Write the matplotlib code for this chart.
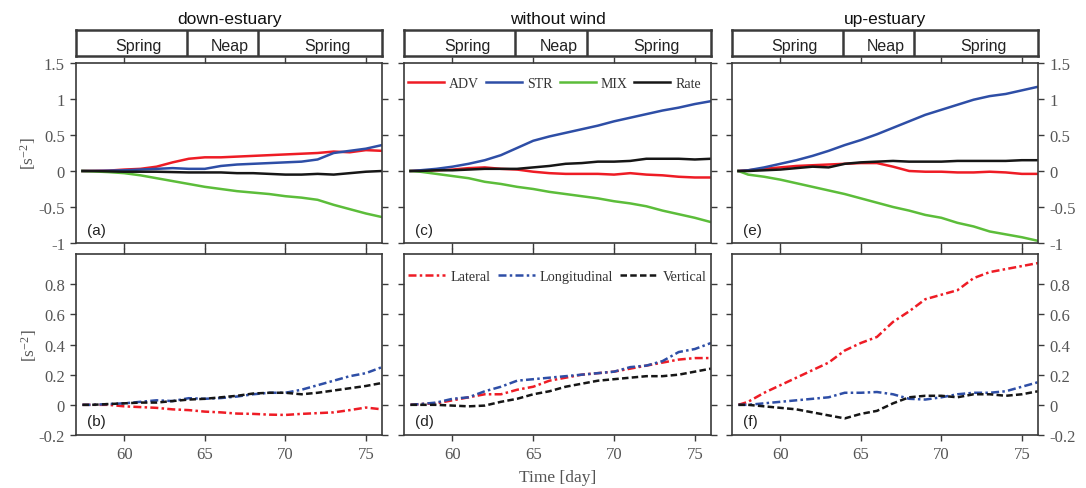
import matplotlib
matplotlib.use('Agg')
import matplotlib.pyplot as plt

# ---------------- data ----------------
time = [57.4, 58, 59, 60, 61, 62, 63, 64, 65, 66, 67, 68, 69, 70, 71, 72, 73, 74, 75, 76]

columns = ['down-estuary', 'without wind', 'up-estuary']
phases = ['Spring', 'Neap', 'Spring']
phase_bounds = [57.0, 63.9, 68.3, 76.0]

# top panels (budget terms)
a_adv = [0, 0.0, 0.005, 0.02, 0.03, 0.06, 0.12, 0.17, 0.19, 0.19, 0.2, 0.21, 0.22, 0.23, 0.24, 0.25, 0.27, 0.26, 0.29, 0.28]
a_str = [0, 0, 0.005, 0.01, 0.02, 0.03, 0.04, 0.03, 0.03, 0.07, 0.09, 0.1, 0.11, 0.12, 0.13, 0.16, 0.25, 0.28, 0.31, 0.36]
a_mix = [0, -0.005, -0.015, -0.03, -0.06, -0.1, -0.14, -0.18, -0.22, -0.25, -0.28, -0.3, -0.32, -0.35, -0.37, -0.4, -0.47, -0.53, -0.59, -0.64]
a_rate = [0, 0, -0.005, -0.01, -0.01, -0.01, -0.015, -0.02, -0.02, -0.02, -0.03, -0.03, -0.04, -0.05, -0.05, -0.04, -0.05, -0.03, -0.01, 0.0]

c_adv = [0, 0.005, 0.01, 0.02, 0.04, 0.05, 0.03, 0.02, -0.01, -0.03, -0.04, -0.04, -0.04, -0.05, -0.03, -0.05, -0.06, -0.08, -0.09, -0.09]
c_str = [0, 0.01, 0.03, 0.06, 0.1, 0.15, 0.22, 0.32, 0.42, 0.48, 0.53, 0.58, 0.63, 0.69, 0.74, 0.79, 0.84, 0.88, 0.93, 0.97]
c_mix = [0, -0.01, -0.04, -0.07, -0.1, -0.15, -0.18, -0.22, -0.25, -0.29, -0.32, -0.35, -0.38, -0.42, -0.45, -0.49, -0.55, -0.6, -0.65, -0.71]
c_rate = [0, 0, 0.01, 0.01, 0.02, 0.03, 0.03, 0.03, 0.05, 0.07, 0.1, 0.11, 0.13, 0.13, 0.14, 0.17, 0.17, 0.17, 0.16, 0.17]

e_adv = [0, 0.01, 0.03, 0.05, 0.07, 0.08, 0.09, 0.1, 0.11, 0.11, 0.06, 0.0, -0.01, -0.01, -0.02, -0.02, -0.01, -0.02, -0.04, -0.04]
e_str = [0, 0.01, 0.05, 0.1, 0.15, 0.21, 0.28, 0.36, 0.43, 0.51, 0.6, 0.69, 0.78, 0.85, 0.92, 0.99, 1.04, 1.07, 1.12, 1.17]
e_mix = [0, -0.05, -0.08, -0.12, -0.17, -0.22, -0.27, -0.32, -0.38, -0.44, -0.5, -0.55, -0.61, -0.65, -0.72, -0.77, -0.84, -0.88, -0.92, -0.97]
e_rate = [0, 0, 0.01, 0.02, 0.04, 0.06, 0.05, 0.1, 0.12, 0.13, 0.14, 0.13, 0.13, 0.13, 0.14, 0.14, 0.14, 0.14, 0.15, 0.15]

# bottom panels (components)
b_lat = [0, 0, 0, -0.01, -0.015, -0.02, -0.03, -0.035, -0.045, -0.05, -0.058, -0.06, -0.065, -0.067, -0.06, -0.055, -0.05, -0.035, -0.018, -0.03]
b_lon = [0, 0, 0.005, 0.01, 0.02, 0.03, 0.025, 0.044, 0.04, 0.045, 0.055, 0.07, 0.08, 0.08, 0.1, 0.13, 0.16, 0.19, 0.21, 0.25]
b_ver = [0, 0, 0.005, 0.01, 0.015, 0.015, 0.025, 0.035, 0.04, 0.05, 0.06, 0.075, 0.08, 0.08, 0.07, 0.08, 0.095, 0.11, 0.125, 0.145]

d_lat = [0, 0.005, 0.01, 0.03, 0.05, 0.07, 0.07, 0.1, 0.12, 0.16, 0.18, 0.2, 0.21, 0.22, 0.24, 0.26, 0.28, 0.3, 0.31, 0.31]
d_lon = [0, 0.005, 0.015, 0.04, 0.05, 0.09, 0.12, 0.16, 0.17, 0.18, 0.19, 0.2, 0.21, 0.22, 0.25, 0.26, 0.29, 0.35, 0.37, 0.41]
d_ver = [0, 0, 0, -0.005, -0.01, -0.005, 0.02, 0.04, 0.07, 0.09, 0.12, 0.14, 0.16, 0.17, 0.18, 0.19, 0.19, 0.2, 0.22, 0.24]

f_lat = [0, 0.02, 0.08, 0.13, 0.18, 0.23, 0.28, 0.36, 0.41, 0.45, 0.55, 0.62, 0.7, 0.73, 0.76, 0.84, 0.88, 0.9, 0.92, 0.94]
f_lon = [0, 0, 0.01, 0.02, 0.03, 0.04, 0.05, 0.08, 0.08, 0.085, 0.07, 0.04, 0.035, 0.05, 0.07, 0.08, 0.08, 0.09, 0.12, 0.15]
f_ver = [0, 0, -0.01, -0.02, -0.03, -0.05, -0.07, -0.09, -0.06, -0.04, 0.01, 0.05, 0.06, 0.06, 0.05, 0.07, 0.07, 0.06, 0.07, 0.09]

top_names = ['ADV', 'STR', 'MIX', 'Rate']
top_series = [[a_adv, a_str, a_mix, a_rate],
              [c_adv, c_str, c_mix, c_rate],
              [e_adv, e_str, e_mix, e_rate]]
bot_names = ['Lateral', 'Longitudinal', 'Vertical']
bot_series = [[b_lat, b_lon, b_ver],
              [d_lat, d_lon, d_ver],
              [f_lat, f_lon, f_ver]]
top_labels = ['(a)', '(c)', '(e)']
bot_labels = ['(b)', '(d)', '(f)']

x_ticks = [60, 65, 70, 75]
top_yticks = [-1, -0.5, 0, 0.5, 1, 1.5]
top_yticklabels = ['-1', '-0.5', '0', '0.5', '1', '1.5']
bot_yticks = [-0.2, 0, 0.2, 0.4, 0.6, 0.8]
bot_yticklabels = ['-0.2', '0', '0.2', '0.4', '0.6', '0.8']

# ---------------- style ----------------
SERIF = 'Liberation Serif'
SANS = 'Liberation Sans'
plt.rcParams['font.family'] = SERIF
plt.rcParams['mathtext.fontset'] = 'custom'
plt.rcParams['mathtext.rm'] = SERIF
plt.rcParams['mathtext.it'] = SERIF + ':italic'

top_colors = ['#ee1c25', '#2e4ea6', '#5cbd3a', '#161616']
bot_colors = ['#ee1c25', '#2e4ea6', '#161616']
bot_dashes = [(3.2, 1.3, 1.0, 1.3), (3.2, 1.3, 1.0, 1.3), (2.6, 1.3)]
SPINE = '#3a3a3a'
TICKC = '#555555'

W, H = 1086, 489
fig = plt.figure(figsize=(W / 100, H / 100), dpi=100)

col_lr = [(76, 382), (404, 711), (732, 1038)]
bar_tb = (31, 57)
top_tb = (64, 244)
bot_tb = (255, 436)
XLIM = (57.0, 76.0)


def rect(lr, tb):
    l, r = lr
    t, b = tb
    return [l / W, 1 - b / H, (r - l) / W, (b - t) / H]


def style_axes(ax):
    for s in ax.spines.values():
        s.set_color(SPINE)
        s.set_linewidth(1.2)
    ax.tick_params(direction='out', length=4, width=1.0, color=SPINE,
                   labelcolor=TICKC, labelsize=12, pad=4,
                   top=True, right=True, bottom=True, left=True)


for ci in range(3):
    lr = col_lr[ci]
    # phase bar
    axb = fig.add_axes(rect(lr, bar_tb))
    axb.set_xlim(*XLIM)
    axb.set_ylim(0, 1)
    axb.set_xticks([])
    axb.set_yticks([])
    for s in axb.spines.values():
        s.set_color(SPINE)
        s.set_linewidth(1.8)
    for k in range(1, len(phase_bounds) - 1):
        axb.axvline(phase_bounds[k], color=SPINE, lw=1.8)
    for k, name in enumerate(phases):
        mid = 0.5 * (phase_bounds[k] + phase_bounds[k + 1]) + 0.45
        axb.text(mid, 0.42, name, ha='center', va='center',
                 fontsize=11.5, family=SANS, color='#222222')
    axb.set_title(columns[ci], fontsize=12.5, family=SANS, pad=5, color='#111111')

    # top panel
    axt = fig.add_axes(rect(lr, top_tb))
    for series, col, name in zip(top_series[ci], top_colors, top_names):
        axt.plot(time, series, color=col, lw=1.8, label=name)
    axt.set_xlim(*XLIM)
    axt.set_ylim(-1, 1.5)
    axt.set_xticks(x_ticks)
    axt.set_xticklabels([])
    axt.set_yticks(top_yticks)
    style_axes(axt)
    axt.text(0.035, 0.072, top_labels[ci], transform=axt.transAxes,
             fontsize=11, family=SANS, color='#222222', va='center', ha='left')

    # bottom panel
    axl = fig.add_axes(rect(lr, bot_tb))
    for series, col, name, dsh in zip(bot_series[ci], bot_colors, bot_names, bot_dashes):
        axl.plot(time, series, color=col, lw=1.8, label=name, dashes=dsh)
    axl.set_xlim(*XLIM)
    axl.set_ylim(-0.2, 1.0)
    axl.set_xticks(x_ticks)
    axl.set_xticklabels([str(v) for v in x_ticks])
    axl.set_yticks(bot_yticks)
    style_axes(axl)
    axl.text(0.035, 0.075, bot_labels[ci], transform=axl.transAxes,
             fontsize=11, family=SANS, color='#222222', va='center', ha='left')

    if ci == 0:
        axt.set_yticklabels(top_yticklabels)
        axl.set_yticklabels(bot_yticklabels)
        axt.set_ylabel('[s$^{-2}$]', fontsize=12.5, color=TICKC, labelpad=0)
        axl.set_ylabel('[s$^{-2}$]', fontsize=12.5, color=TICKC, labelpad=0)
    elif ci == 1:
        axt.set_yticklabels([])
        axl.set_yticklabels([])
        axl.set_xlabel('Time [day]', fontsize=12.5, color=TICKC, labelpad=5)
        leg = axt.legend(loc='center left', bbox_to_anchor=(0.0, 0.885), ncol=4,
                         frameon=False, fontsize=10, handlelength=2.6,
                         handletextpad=0.35, columnspacing=0.5,
                         borderaxespad=0.2, borderpad=0.1)
        for t in leg.get_texts():
            t.set_color('#333333')
        leg2 = axl.legend(loc='center left', bbox_to_anchor=(0.0, 0.875), ncol=3,
                          frameon=False, fontsize=10.3, handlelength=2.6,
                          handletextpad=0.35, columnspacing=0.5,
                          borderaxespad=0.2, borderpad=0.1)
        for t in leg2.get_texts():
            t.set_color('#333333')
    else:
        axt.yaxis.tick_right()
        axl.yaxis.tick_right()
        style_axes(axt)
        style_axes(axl)
        axt.tick_params(labelleft=False, labelright=True)
        axl.tick_params(labelleft=False, labelright=True)
        axt.set_yticklabels(top_yticklabels)
        axl.set_yticklabels(bot_yticklabels)

fig.savefig('out.png', dpi=100)
